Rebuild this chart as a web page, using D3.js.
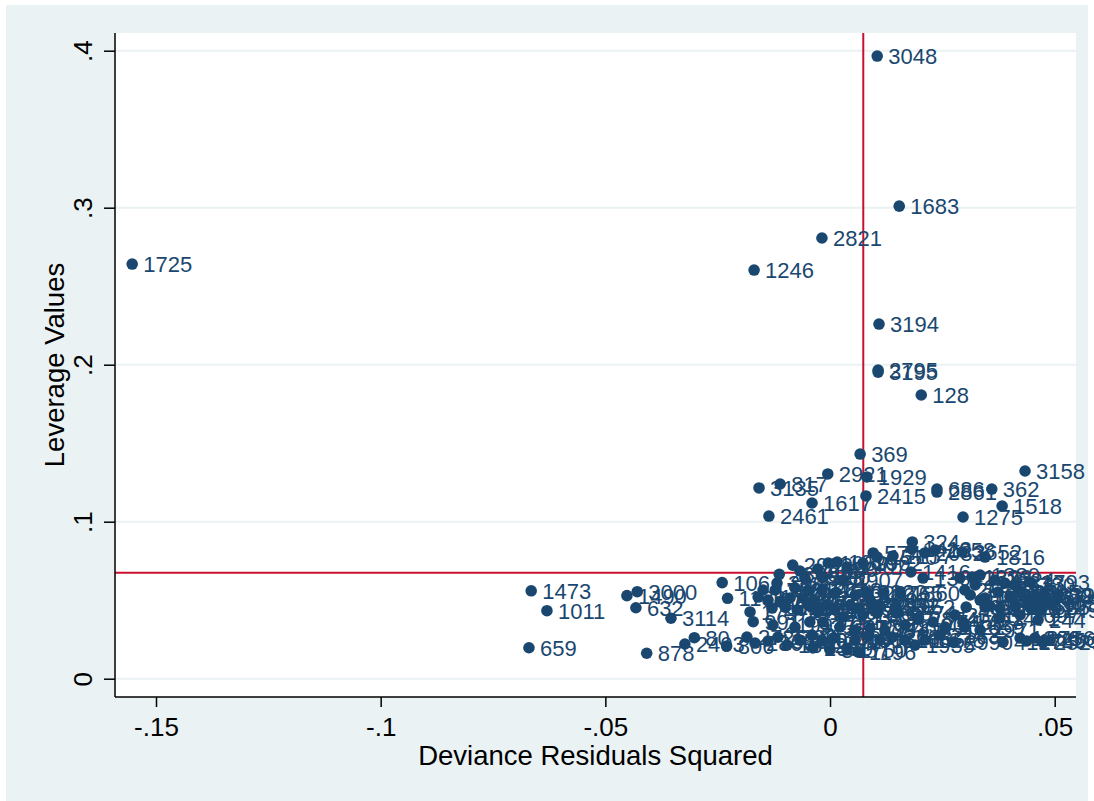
<!DOCTYPE html>
<html>
<head>
<meta charset="utf-8">
<script src="https://cdn.jsdelivr.net/npm/d3@7"></script>
<style>
  html, body { margin: 0; padding: 0; background: #ffffff; }
  svg { display: block; font-family: "Liberation Sans", Arial, Helvetica, sans-serif; }
</style>
</head>
<body>
<svg id="chart" width="1094" height="801"></svg>
<script>
// Observation identifiers used as marker labels
const obsIds = [
  3048, 1683, 2821, 1246, 1725, 3194, 2795, 3195, 128, 369,
  2921, 1929, 3135, 817, 1617, 2415, 2461, 686, 2861, 362,
  3158, 1518, 1275, 324, 1816, 1416, 1473, 1011, 659, 3000,
  1490, 632, 3114, 80, 2403, 878, 806, 106, 991, 2990,
  244,
  2658, 2082, 1412, 3652, 574, 1570, 2157, 2902, 2992, 1039,
  1910, 2550, 1907, 3068, 1588, 880, 2907, 1364, 1323, 1380,
  1524, 2780, 1793, 2333, 2237, 1702, 2300,
  1132, 1177, 2768, 1469, 3062, 2218, 1145, 1432, 2322, 2765,
  1860, 1097, 1552, 2671, 3120, 1294, 2503, 1506, 1987, 1826,
  2034, 1665, 1055, 2215, 1797, 2641, 1218, 2456, 1184, 1049,
  1512, 1628, 1952, 2318, 1358, 2706, 1741, 2685, 2249,
  2151, 1680, 2574, 1233, 2087, 2745, 3021, 1659, 2971, 1427,
  1925, 1371, 2874, 1590,
  2725, 2806, 1350, 2330, 1862, 1404, 2590, 1221, 3006, 1750,
  1301, 2476, 1616, 2763, 2155, 1935, 412, 1266, 2756, 2529,
  2564, 1749,
  2277, 1538, 2948, 1719, 3057, 2380, 1196, 1678, 2143, 2199,
  1889, 2472, 1360, 1758, 3081, 2630, 1113, 2848, 1648, 2917,
  1206, 2595, 1839, 2381, 1471, 2097
];

// Squared deviance residuals (x values)
const devResSq = [
  0.0105, 0.0154, -0.0018, -0.0169, -0.1553, 0.0109, 0.0107, 0.0107, 0.0203, 0.0067,
  -0.0005, 0.0082, -0.0158, -0.0111, -0.0040, 0.0080, -0.0136, 0.0238, 0.0238, 0.0360,
  0.0434, 0.0383, 0.0296, 0.0183, 0.0345, 0.0180, -0.0665, -0.0630, -0.0670, -0.0429,
  -0.0452, -0.0432, -0.0354, -0.0302, -0.0323, -0.0408, -0.0230, -0.0240, -0.0171, 0.0274,
  0.0463,
  0.0234, 0.0211, 0.0182, 0.0294, 0.0096, 0.0105, 0.0140, 0.0073, -0.0083, -0.0004,
  0.0016, -0.0027, 0.0038, -0.0118, -0.0056, -0.0016, 0.0029, 0.0207, 0.0316, 0.0334,
  0.0367, 0.0412, 0.0445, 0.0389, 0.0289, -0.0067, -0.0113,
  -0.0228, -0.0160, -0.0138, -0.0111, -0.0089, -0.0060, -0.0033, 0.0011, 0.0082, 0.0118,
  0.0156, 0.0089, 0.0111, 0.0300, 0.0312, 0.0345, 0.0374, 0.0401, 0.0434, 0.0478,
  0.0505, 0.0467, 0.0490, -0.0045, -0.0178, -0.0129, -0.0100, -0.0073, -0.0011, 0.0011,
  0.0062, 0.0100, 0.0145, 0.0303, 0.0345, 0.0378, 0.0412, 0.0445, 0.0467,
  -0.0016, 0.0073, 0.0149, 0.0029, 0.0105, 0.0229, 0.0256, 0.0300, 0.0334, 0.0296,
  -0.0078, -0.0045, 0.0196, 0.0167,
  -0.0185, -0.0167, -0.0138, -0.0116, -0.0096, -0.0067, -0.0040, -0.0018, 0.0007, 0.0038,
  0.0056, 0.0085, 0.0111, 0.0138, 0.0167, 0.0189, 0.0385, 0.0423, 0.0456, 0.0474,
  0.0490, 0.0438,
  0.0022, 0.0056, 0.0089, 0.0122, 0.0000, -0.0038, 0.0062, 0.0211, 0.0245, -0.0127,
  -0.0027, 0.0045, 0.0056, -0.0149, -0.0122, -0.0078, -0.0049, -0.0018, 0.0334, 0.0356,
  0.0323, 0.0423, 0.0456, 0.0278, 0.0378, 0.0423
];

// Leverage values (y values)
const leverage = [
  0.3966, 0.3010, 0.2807, 0.2603, 0.2641, 0.2259, 0.1966, 0.1953, 0.1807, 0.1431,
  0.1304, 0.1285, 0.1215, 0.1240, 0.1119, 0.1164, 0.1036, 0.1208, 0.1189, 0.1208,
  0.1323, 0.1100, 0.1030, 0.0871, 0.0775, 0.0680, 0.0560, 0.0433, 0.0197, 0.0554,
  0.0529, 0.0452, 0.0385, 0.0261, 0.0221, 0.0162, 0.0208, 0.0612, 0.0363, 0.0233,
  0.0374,
  0.0820, 0.0801, 0.0826, 0.0807, 0.0801, 0.0775, 0.0782, 0.0737, 0.0724, 0.0737,
  0.0743, 0.0699, 0.0711, 0.0609, 0.0641, 0.0647, 0.0629, 0.0641, 0.0647, 0.0660,
  0.0629, 0.0597, 0.0616, 0.0609, 0.0641, 0.0686, 0.0665,
  0.0512, 0.0520, 0.0501, 0.0489, 0.0514, 0.0514, 0.0489, 0.0546, 0.0552, 0.0546,
  0.0546, 0.0501, 0.0469, 0.0565, 0.0533, 0.0514, 0.0552, 0.0527, 0.0514, 0.0533,
  0.0527, 0.0489, 0.0476, 0.0463, 0.0425, 0.0450, 0.0456, 0.0438, 0.0463, 0.0438,
  0.0450, 0.0456, 0.0456, 0.0456, 0.0456, 0.0450, 0.0456, 0.0456, 0.0438,
  0.0361, 0.0406, 0.0418, 0.0393, 0.0418, 0.0361, 0.0329, 0.0329, 0.0310, 0.0361,
  0.0329, 0.0361, 0.0380, 0.0342,
  0.0265, 0.0227, 0.0240, 0.0265, 0.0214, 0.0246, 0.0278, 0.0240, 0.0259, 0.0183,
  0.0246, 0.0271, 0.0246, 0.0265, 0.0246, 0.0214, 0.0233, 0.0259, 0.0259, 0.0233,
  0.0246, 0.0240,
  0.0329, 0.0310, 0.0323, 0.0310, 0.0183, 0.0196, 0.0170, 0.0246, 0.0278, 0.0342,
  0.0425, 0.0469, 0.0533, 0.0565, 0.0565, 0.0578, 0.0565, 0.0565, 0.0501, 0.0463,
  0.0597, 0.0552, 0.0533, 0.0406, 0.0387, 0.0406
];

// Reference lines: mean squared residual and mean leverage
const refX = [0.0074];
const refY = [0.0675];

// Axis ticks and their labels
const xTicks = [-0.15, -0.1, -0.05, 0, 0.05];
const xTickLabels = ["-.15", "-.1", "-.05", "0", ".05"];
const yTicks = [0, 0.1, 0.2, 0.3, 0.4];
const yTickLabels = ["0", ".1", ".2", ".3", ".4"];

const xTitle = "Deviance Residuals Squared";
const yTitle = "Leverage Values";

const points = obsIds.map((id, i) => ({ id, x: devResSq[i], y: leverage[i] }));

const svg = d3.select("#chart");
const W = 1094, H = 801;

// plot region bounds
const plot = { left: 115, right: 1076, top: 33, bottom: 697 };

const x = d3.scaleLinear().domain([-0.15, 0.05]).range([156, 1054.7]);
const y = d3.scaleLinear().domain([0, 0.4]).range([678.7, 50.7]);

const navy = "#1a476f";
const red = "#c8102e";
const bg = "#eaf2f3";

// outer graph background
svg.append("rect").attr("x", 6).attr("y", 5).attr("width", W - 12).attr("height", H - 5)
  .attr("fill", bg);

// plot region
svg.append("rect")
  .attr("x", plot.left).attr("y", plot.top)
  .attr("width", plot.right - plot.left).attr("height", plot.bottom - plot.top)
  .attr("fill", "#ffffff");

// horizontal grid lines
svg.append("g").selectAll("line").data(yTicks).join("line")
  .attr("x1", plot.left).attr("x2", plot.right)
  .attr("y1", d => y(d)).attr("y2", d => y(d))
  .attr("stroke", bg).attr("stroke-width", 2);

// reference lines
svg.append("g").selectAll("line").data(refX).join("line")
  .attr("x1", d => x(d)).attr("x2", d => x(d))
  .attr("y1", plot.top).attr("y2", plot.bottom)
  .attr("stroke", red).attr("stroke-width", 2);
svg.append("g").selectAll("line").data(refY).join("line")
  .attr("x1", plot.left).attr("x2", plot.right)
  .attr("y1", d => y(d)).attr("y2", d => y(d))
  .attr("stroke", red).attr("stroke-width", 2);

// x axis
const xAxis = d3.axisBottom(x).tickValues(xTicks)
  .tickFormat((d, i) => xTickLabels[i]).tickSize(10).tickPadding(11).tickSizeOuter(0);
const gx = svg.append("g").attr("transform", `translate(0,${plot.bottom})`).call(xAxis);
gx.select(".domain").remove();
gx.append("line").attr("x1", plot.left).attr("x2", plot.right).attr("y1", 0).attr("y2", 0)
  .attr("stroke", "#000").attr("stroke-width", 1.5);
gx.selectAll(".tick line").attr("stroke", "#000").attr("stroke-width", 1.5);
gx.selectAll(".tick text").attr("fill", "#000").attr("font-size", 26)
  .attr("font-family", "Liberation Sans, Arial, sans-serif");

// y axis
const yAxis = d3.axisLeft(y).tickValues(yTicks)
  .tickFormat((d, i) => yTickLabels[i]).tickSize(11).tickSizeOuter(0);
const gy = svg.append("g").attr("transform", `translate(${plot.left},0)`).call(yAxis);
gy.select(".domain").remove();
gy.append("line").attr("x1", 0).attr("x2", 0).attr("y1", plot.top).attr("y2", plot.bottom)
  .attr("stroke", "#000").attr("stroke-width", 1.5);
gy.selectAll(".tick line").attr("stroke", "#000").attr("stroke-width", 1.5);
gy.selectAll(".tick text")
  .attr("fill", "#000").attr("font-size", 26)
  .attr("font-family", "Liberation Sans, Arial, sans-serif")
  .attr("x", 0).attr("dy", null).attr("y", 0)
  .attr("text-anchor", "middle")
  .attr("transform", "translate(-23,0) rotate(-90)");

// axis titles
svg.append("text")
  .attr("x", (plot.left + plot.right) / 2).attr("y", 765)
  .attr("text-anchor", "middle").attr("font-size", 27.5).attr("fill", "#000")
  .text(xTitle);
svg.append("text")
  .attr("transform", `translate(64,${(plot.top + plot.bottom) / 2}) rotate(-90)`)
  .attr("text-anchor", "middle").attr("font-size", 27.5).attr("fill", "#000")
  .text(yTitle);

// markers
svg.append("g").selectAll("circle").data(points).join("circle")
  .attr("cx", d => x(d.x)).attr("cy", d => y(d.y)).attr("r", 5.8)
  .attr("fill", navy);

// marker labels
svg.append("g").selectAll("text").data(points).join("text")
  .attr("x", d => x(d.x) + 11).attr("y", d => y(d.y) + 8)
  .attr("font-size", 22).attr("fill", navy)
  .text(d => d.id);
</script>
</body>
</html>
